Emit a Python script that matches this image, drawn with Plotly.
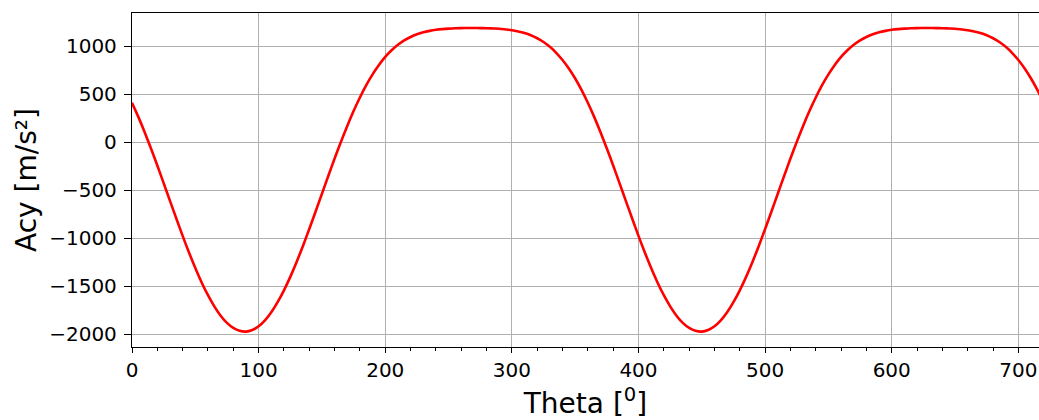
import plotly.graph_objects as go

# Crank angle [deg]
theta = list(range(0, 725, 5))

# Acceleration Acy [m/s^2], one cycle (0..355 deg)
acy_cycle1 = [
    410, 263, 104, -66, -243, -426, -611, -795, -976, -1148,
    -1310, -1460, -1593, -1709, -1806, -1881, -1934, -1964, -1972, -1955,
    -1916, -1854, -1770, -1665, -1542, -1402, -1247, -1080, -904, -722,
    -537, -352, -171, 3, 169, 324, 465, 593, 705, 803,
    887, 956, 1013, 1059, 1094, 1122, 1143, 1158, 1169, 1176,
    1181, 1185, 1187, 1188, 1188, 1187, 1186, 1183, 1180, 1173,
    1165, 1152, 1135, 1112, 1081, 1042, 992, 930, 855, 766,
    662, 544,
]
# second cycle (360..720 deg)
acy_cycle2 = [
    410, 263, 104, -66, -243, -426, -611, -795, -976, -1148,
    -1310, -1460, -1593, -1709, -1806, -1881, -1934, -1964, -1972, -1955,
    -1916, -1854, -1770, -1665, -1542, -1402, -1247, -1080, -904, -722,
    -537, -352, -171, 3, 169, 324, 465, 593, 705, 803,
    887, 956, 1013, 1059, 1094, 1122, 1143, 1158, 1169, 1176,
    1181, 1185, 1187, 1188, 1188, 1187, 1186, 1183, 1180, 1173,
    1165, 1152, 1135, 1112, 1081, 1042, 992, 930, 855, 766,
    662, 544, 410,
]
acy = acy_cycle1 + acy_cycle2

x_ticks = [0, 100, 200, 300, 400, 500, 600, 700]
y_ticks = [-2000, -1500, -1000, -500, 0, 500, 1000]

x_title = "Theta [<sup>0</sup>]"
y_title = "Acy [m/s²]"

font_family = "DejaVu Sans"

fig = go.Figure()
fig.add_trace(go.Scatter(
    x=theta, y=acy, mode="lines",
    line=dict(color="#ff0000", width=2.6, shape="spline", smoothing=0.8),
    showlegend=False, hoverinfo="x+y",
))

fig.update_layout(
    width=1039, height=420,
    margin=dict(l=132, r=0, t=13, b=73),
    paper_bgcolor="white", plot_bgcolor="white",
    font=dict(family=font_family, color="black", size=20),
)

fig.update_xaxes(
    range=[0, 716.3], automargin=False,
    tickmode="array", tickvals=x_ticks,
    ticks="outside", ticklen=5, tickwidth=1.2, tickcolor="black",
    showline=True, linecolor="black", linewidth=1.3, mirror=True,
    showgrid=True, gridcolor="#b0b0b0", gridwidth=1.4,
    zeroline=False,
    tickfont=dict(size=20, family=font_family),
    minor=dict(dtick=20, tick0=0, ticks="outside", ticklen=3, tickwidth=1, tickcolor="black", showgrid=False),
    title=dict(text=x_title, font=dict(size=28, family=font_family), standoff=12),
)
fig.update_yaxes(
    range=[-2132, 1344], automargin=False,
    tickmode="array", tickvals=y_ticks,
    ticks="outside", ticklen=7, tickwidth=1.2, tickcolor="black",
    ticklabelstandoff=3,
    showline=True, linecolor="black", linewidth=1.3, mirror=False,
    showgrid=True, gridcolor="#b0b0b0", gridwidth=1.4,
    zeroline=False,
    tickfont=dict(size=20, family=font_family),
    title=dict(text=y_title, font=dict(size=28, family=font_family), standoff=4),
)

fig.write_html(
    "out.html",
    config={"displayModeBar": False},
    post_script="document.body.style.margin='0';document.body.style.overflow='hidden';",
)
